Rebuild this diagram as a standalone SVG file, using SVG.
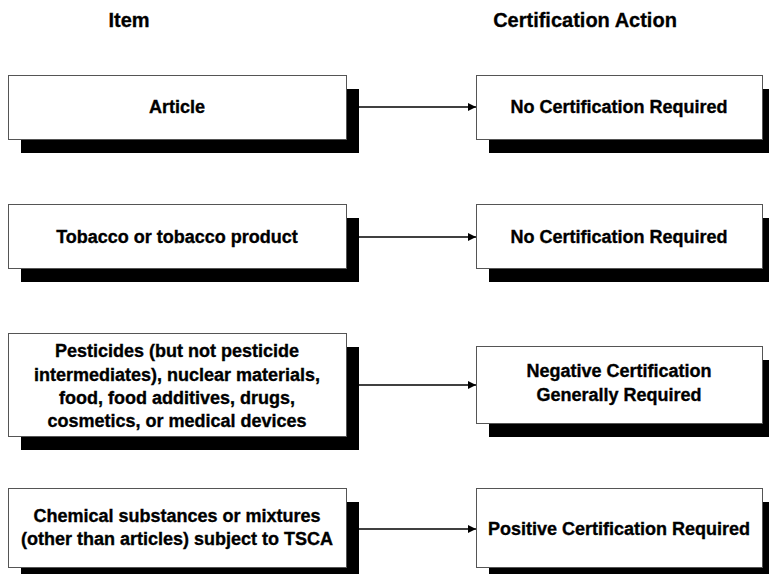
<svg xmlns="http://www.w3.org/2000/svg" width="769" height="574" viewBox="0 0 769 574">
<defs>
<style>
.shadow{fill:#000}
.box{fill:#fff;stroke:#555;stroke-width:1}
.t{font-family:"Liberation Sans",Arial,sans-serif;font-weight:bold;font-size:18px;fill:#000;stroke:#000;stroke-width:0.35;text-anchor:middle}
.h{font-family:"Liberation Sans",Arial,sans-serif;font-weight:bold;font-size:20px;fill:#000;stroke:#000;stroke-width:0.3;text-anchor:middle}
.c{stroke:#000;stroke-width:1.5;fill:none}
</style>
<marker id="ah" viewBox="0 0 10 10" refX="10" refY="5" markerWidth="9" markerHeight="8" markerUnits="userSpaceOnUse" orient="auto">
<path d="M0,0 L10,5 L0,10 z" fill="#000"/>
</marker>
</defs>
<rect width="769" height="574" fill="#fff"/>
<g id="headers">
<text class="h" x="129" y="27">Item</text>
<text class="h" x="585" y="27">Certification Action</text>
</g>
<g id="item1">
<rect class="shadow" x="21" y="89" width="338" height="64"/>
<rect class="box" x="8.5" y="75.5" width="338" height="64"/>
<text class="t" x="177" y="113">Article</text>
</g>
<g id="action1">
<rect class="shadow" x="489" y="89" width="286" height="64"/>
<rect class="box" x="476.5" y="75.5" width="286" height="64"/>
<text class="t" x="619" y="113">No Certification Required</text>
</g>
<g id="item2">
<rect class="shadow" x="21" y="218" width="338" height="64"/>
<rect class="box" x="8.5" y="204.5" width="338" height="64"/>
<text class="t" x="177" y="243">Tobacco or tobacco product</text>
</g>
<g id="action2">
<rect class="shadow" x="489" y="218" width="286" height="64"/>
<rect class="box" x="476.5" y="204.5" width="286" height="64"/>
<text class="t" x="619" y="243">No Certification Required</text>
</g>
<g id="item3">
<rect class="shadow" x="21" y="347" width="338" height="103"/>
<rect class="box" x="8.5" y="333.5" width="338" height="103"/>
<text class="t" x="177" y="357">Pesticides (but not pesticide</text>
<text class="t" x="177" y="380.5">intermediates), nuclear materials,</text>
<text class="t" x="177" y="404">food, food additives, drugs,</text>
<text class="t" x="177" y="427">cosmetics, or medical devices</text>
</g>
<g id="action3">
<rect class="shadow" x="489" y="360" width="286" height="77"/>
<rect class="box" x="476.5" y="346.5" width="286" height="77"/>
<text class="t" x="619" y="377">Negative Certification</text>
<text class="t" x="619" y="400.5">Generally Required</text>
</g>
<g id="item4">
<rect class="shadow" x="21" y="502" width="338" height="79"/>
<rect class="box" x="8.5" y="488.5" width="338" height="79"/>
<text class="t" x="177" y="522">Chemical substances or mixtures</text>
<text class="t" x="177" y="545">(other than articles) subject to TSCA</text>
</g>
<g id="action4">
<rect class="shadow" x="489" y="502" width="286" height="79"/>
<rect class="box" x="476.5" y="488.5" width="286" height="79"/>
<text class="t" x="619" y="535">Positive Certification Required</text>
</g>
<g id="connectors">
<line class="c" x1="359" y1="107" x2="476" y2="107" marker-end="url(#ah)"/>
<line class="c" x1="359" y1="237" x2="476" y2="237" marker-end="url(#ah)"/>
<line class="c" x1="359" y1="385" x2="476" y2="385" marker-end="url(#ah)"/>
<line class="c" x1="359" y1="529" x2="476" y2="529" marker-end="url(#ah)"/>
</g>
</svg>
